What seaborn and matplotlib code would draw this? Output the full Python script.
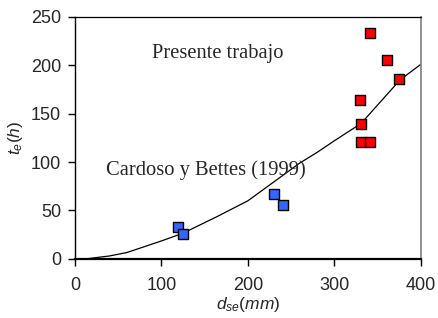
import matplotlib
matplotlib.use("Agg")
import matplotlib.pyplot as plt
import seaborn as sns
import pandas as pd

# Data
blue_x = [119, 125, 230, 240]
blue_y = [33, 26, 67, 56]
red_x = [341, 361, 375, 330, 331, 331, 341]
red_y = [233, 205, 186, 164, 139, 121, 121]
curve_x = [13, 40, 60, 100, 125, 164, 200, 240, 260, 280, 300, 331, 376, 400]
curve_y = [0, 3, 6.5, 18.5, 26.5, 43.5, 60, 86, 99, 110, 122, 140, 185, 201]
x_ticks = [0, 100, 200, 300, 400]
y_ticks = [0, 50, 100, 150, 200, 250]

sns.set_style("ticks")
plt.rcParams['font.family'] = ['Liberation Sans', 'DejaVu Sans']
plt.rcParams['mathtext.fontset'] = 'custom'
plt.rcParams['mathtext.rm'] = 'Liberation Sans'
plt.rcParams['mathtext.it'] = 'Liberation Sans:italic'

fig = plt.figure(figsize=(4.38, 3.18), dpi=100)
ax = fig.add_axes([0.171, 0.186, 0.790, 0.761])

curve = pd.DataFrame({"x": curve_x, "y": curve_y})
blue = pd.DataFrame({"x": blue_x, "y": blue_y})
red = pd.DataFrame({"x": red_x, "y": red_y})

sns.lineplot(data=curve, x="x", y="y", ax=ax, color="black", linewidth=0.9,
             sort=False, estimator=None)
sns.scatterplot(data=blue, x="x", y="y", ax=ax, marker="s", s=52,
                color="#3366FF", edgecolor="black", linewidth=1.0, zorder=3)
sns.scatterplot(data=red, x="x", y="y", ax=ax, marker="s", s=52,
                color="#FF0000", edgecolor="black", linewidth=1.0, zorder=3)

ax.set_xlim(0, 400)
ax.set_ylim(0, 250)
ax.set_xticks(x_ticks)
ax.set_yticks(y_ticks)
ax.tick_params(axis="both", labelsize=13, direction="out", length=5, width=1, color="black")
ax.tick_params(axis="x", pad=8)
ax.tick_params(axis="y", pad=5)

for side in ["left", "bottom", "top", "right"]:
    ax.spines[side].set_visible(True)
ax.spines["bottom"].set_linewidth(1.6)
ax.spines["left"].set_linewidth(1.0)
ax.spines["top"].set_linewidth(0.9)
ax.spines["right"].set_linewidth(1.2)
ax.spines["right"].set_color("#808080")
for s in ["left", "bottom", "top"]:
    ax.spines[s].set_color("black")

ax.set_xlabel(r"$\mathit{d_{se}(mm)}$", fontsize=12.5, labelpad=1)
ax.set_ylabel(r"$\mathit{t_{e}(h)}$", fontsize=12.5, labelpad=4)

ax.text(89, 212, "Presente trabajo", family="Liberation Serif", fontsize=14.8,
        ha="left", va="center")
ax.text(36, 92, "Cardoso y Bettes (1999)", family="Liberation Serif", fontsize=14.8,
        ha="left", va="center")

fig.savefig("out.png", dpi=100)
